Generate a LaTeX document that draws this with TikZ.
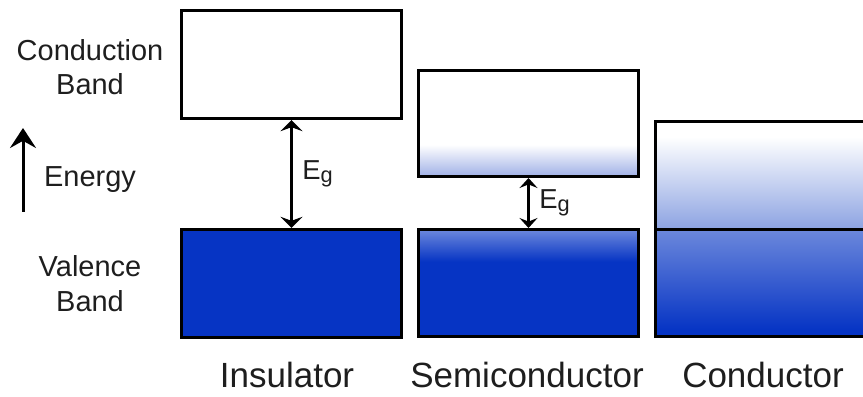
\documentclass[tikz,border=0pt]{standalone}
\usepackage{fontspec}
\setmainfont{Liberation Sans}
\usetikzlibrary{positioning,calc,arrows.meta}
\usepackage{xcolor}

\definecolor{bandblue}{RGB}{6,52,196}
\definecolor{paleblue}{RGB}{160,176,230}
\definecolor{midblue}{RGB}{108,136,220}
\definecolor{lightblue}{RGB}{140,162,226}
\definecolor{labelgray}{RGB}{30,30,30}

% vertical shadings, 25bp = bottom of the box, 75bp = top
\pgfdeclareverticalshading{semicb}{100bp}{color(0bp)=(paleblue); color(25bp)=(paleblue); color(40bp)=(white); color(100bp)=(white)}
\pgfdeclareverticalshading{semivb}{100bp}{color(0bp)=(bandblue); color(60bp)=(bandblue); color(75bp)=(midblue); color(100bp)=(midblue)}
\pgfdeclareverticalshading{condcb}{100bp}{color(0bp)=(lightblue); color(25bp)=(lightblue); color(68bp)=(white); color(100bp)=(white)}
\pgfdeclareverticalshading{condvb}{100bp}{color(0bp)=(bandblue); color(28bp)=(bandblue); color(75bp)=(midblue); color(100bp)=(midblue)}

\newcommand{\Eg}{E\raisebox{-0.12em}{\fontsize{15.5}{17}\selectfont g}}

\tikzset{
  band/.style={draw=black, line width=0.075cm, rectangle, inner sep=0pt,
    anchor=south west, minimum width=5.5cm},
  gaphead/.tip={Stealth[length=0.28cm,width=0.55cm,inset=0.1cm]},
  semihead/.tip={Stealth[length=0.25cm,width=0.45cm,inset=0.09cm]},
  energyhead/.tip={Stealth[length=0.5cm,width=0.65cm,inset=0.18cm]},
  gaparrow/.style={line width=0.075cm, gaphead-gaphead},
  semiarrow/.style={line width=0.075cm, semihead-semihead},
  sidelabel/.style={align=center, text=labelgray, font=\fontsize{20.6}{24.8}\selectfont},
  kindlabel/.style={text=labelgray, inner sep=0pt, anchor=base, font=\fontsize{24.9}{30}\selectfont},
  gaplabel/.style={text=labelgray, inner sep=1pt, font=\fontsize{19.5}{22}\selectfont}
}

\begin{document}
\begin{tikzpicture}
  \path[use as bounding box, clip] (0,0) rectangle (21.575,9.9);

  % insulator
  \node[band, fill=white, minimum height=2.7cm] (insCB) at (4.5,6.9) {};
  \node[band, fill=bandblue, minimum height=2.7cm] (insVB) at (4.5,1.425) {};

  % semiconductor
  \node[band, shade, shading=semicb, minimum height=2.65cm] (semiCB) at (10.425,5.45) {};
  \node[band, shade, shading=semivb, minimum height=2.675cm] (semiVB) at (10.425,1.45) {};

  % conductor, cut off at the right edge
  \node[band, shade, shading=condvb, minimum width=6cm, minimum height=2.675cm] (condVB) at (16.35,1.45) {};
  \node[band, shade, shading=condcb, minimum width=6cm, minimum height=2.7cm] (condCB) at (16.35,4.125) {};

  % band gaps
  \draw[gaparrow] (insCB.south) -- (insVB.north)
    node[gaplabel, midway, right=0.2cm] (insEg) {\Eg};
  \draw[semiarrow] (semiCB.south) -- (semiVB.north)
    node[gaplabel, midway, right=0.2cm] (semiEg) {\Eg};

  % left side labels
  \node[sidelabel] (cblabel) at (2.25,8.22) {Conduction\\Band};
  \node[sidelabel] (energy) at (2.25,5.4) {Energy};
  \node[sidelabel] (vblabel) at (2.25,2.8) {Valence\\Band};
  \coordinate (elow) at (0.575,4.6);
  \coordinate (ehigh) at (0.575,6.7);
  \draw[line width=0.075cm, -energyhead] (elow) -- (ehigh);

  % bottom labels
  \node[kindlabel] (inslabel) at (7.175,0.225) {Insulator};
  \node[kindlabel] (semilabel) at (13.175,0.225) {Semiconductor};
  \node[kindlabel] (condlabel) at (19.075,0.225) {Conductor};
\end{tikzpicture}
\end{document}
